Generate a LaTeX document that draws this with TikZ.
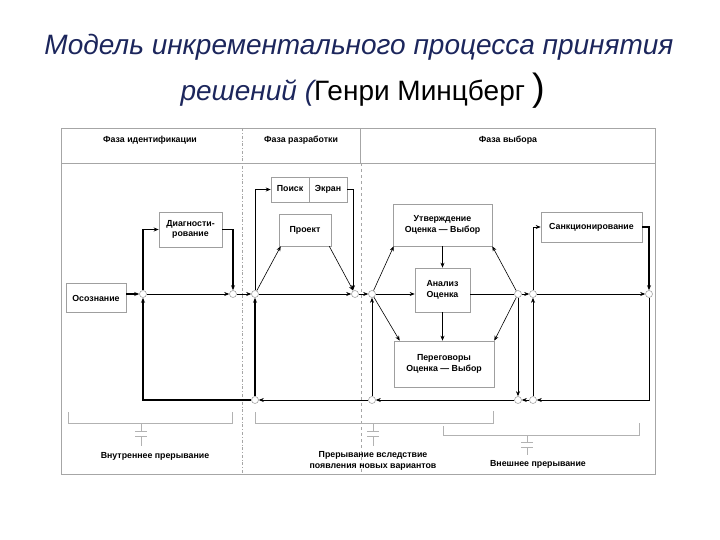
\documentclass[tikz,border=0pt]{standalone}
\usepackage{fontspec}
\setmainfont{Liberation Sans}
\usetikzlibrary{arrows.meta}
\definecolor{titleblue}{RGB}{28,38,92}

\begin{document}
\begin{tikzpicture}[x=1pt,y=-1pt,line width=.6pt,
  box/.style={draw=gray!75,fill=white,inner sep=1pt,align=center,font=\fontsize{8.8}{10.5}\selectfont\bfseries},
  lbl/.style={inner sep=1pt,align=center,font=\fontsize{8.8}{11.5}\selectfont\bfseries},
  junc/.style={circle,draw=gray!70,fill=white,inner sep=0pt,minimum size=7pt},
  flow/.style={-{Stealth[length=5pt,width=4pt]}},
  brk/.style={draw=gray!60,line width=.7pt}]
\useasboundingbox (0,0) rectangle (720,540);
% title
\node[anchor=base,text=titleblue,font=\fontsize{28}{32}\selectfont\itshape] (title1) at (359,55) {Модель инкрементального процесса принятия};
\node[anchor=base,font=\fontsize{28}{32}\selectfont] (title2) at (363,101) {\textcolor{titleblue}{\itshape решений (}Генри Минцберг {\fontsize{38}{38}\selectfont)}};
% frame and phases
\draw[gray!70] (61,128) rectangle (655,474);
\draw[gray!70] (61,163) -- (655,163);
\draw[gray!70,dash dot] (242,128) -- (242,474);
\draw[gray!70] (360,128) -- (360,163);
\draw[gray!70,dashed] (361,163) -- (361,474);
\node[lbl] (ph1) at (150,140) {Фаза идентификации};
\node[lbl] (ph2) at (301,140) {Фаза разработки};
\node[lbl] (ph3) at (508,140) {Фаза выбора};
% boxes
\node[box,minimum width=60pt,minimum height=29pt] (osoz) at (96,298) {Осознание};
\node[box,minimum width=63pt,minimum height=35pt] (diag) at (190.5,229.5) {Диагности-\\рование};
\node[box,minimum width=38pt,minimum height=25pt,text depth=2.5pt] (poisk) at (290,189.5) {Поиск};
\node[box,minimum width=38pt,minimum height=25pt,text depth=2.5pt] (ekran) at (328,189.5) {Экран};
\node[box,minimum width=52pt,minimum height=32pt] (proekt) at (305,230) {Проект};
\node[box,minimum width=99pt,minimum height=42pt] (utv) at (442.5,225) {Утверждение\\Оценка --- Выбор};
\node[box,minimum width=55pt,minimum height=44pt] (anal) at (442.5,290) {Анализ\\Оценка};
\node[box,minimum width=100pt,minimum height=46pt] (per) at (444,364) {Переговоры\\Оценка --- Выбор};
\node[box,minimum width=101pt,minimum height=30pt] (sank) at (591.5,227) {Санкционирование};
% junctions
\node[junc] (c1) at (143,294) {};
\node[junc] (c2) at (233,294) {};
\node[junc] (c3) at (255,294) {};
\node[junc] (c4) at (355,294) {};
\node[junc] (c5) at (372,294) {};
\node[junc] (c6) at (518,294) {};
\node[junc] (c7) at (533,294) {};
\node[junc] (c8) at (649,294) {};
\node[junc] (b3) at (255,400) {};
\node[junc] (b5) at (372,400) {};
\node[junc] (b6) at (518,400) {};
\node[junc] (b7) at (533,400) {};
% main line
\draw[flow,line width=1.4pt] (osoz.east |- c1) -- (c1);
\draw[flow] (c1) -- (c2);
\draw[flow] (c2) -- (c3);
\draw[flow] (c3) -- (c4);
\draw[flow] (c4) -- (c5);
\draw[flow] (c5) -- (c5 -| anal.west);
\draw (anal.east |- c6) -- (c6);
\draw[flow] (c6) -- (c7);
\draw[flow] (c7) -- (c8);
% identification
\draw[flow,line width=1.4pt] (c1) |- (diag.west);
\draw[flow,line width=1.4pt] (diag.east) -| (c2);
% development
\draw[flow] (c3) |- (poisk.west);
\draw[flow] (ekran.east) -| ([xshift=-2pt]c4.north);
\draw[flow] (c3) -- ([xshift=2pt]proekt.south west);
\draw[flow] ([xshift=-2pt]proekt.south east) -- (c4);
% selection
\draw[flow] (c5) -- ([xshift=1pt]utv.south west);
\draw[flow] (c5) -- ([xshift=6pt]per.north west);
\draw[flow] (c6) -- (utv.south east);
\draw[flow] (c6) -- (per.north east);
\draw[flow] (utv.south -| anal.north) -- (anal.north);
\draw[flow] (anal.south) -- (anal.south |- per.north);
\draw[flow] (c7) |- (sank.west);
\draw[flow,line width=1.2pt] (sank.east) -| (c8);
% return loops
\draw[flow] (c8) |- (b7);
\draw[flow] (b7) -- (b6);
\draw[flow] (b6) -- (b5);
\draw[flow] (b5) -- (b3);
\draw[flow,line width=1.4pt] (b3) -| (c1);
\draw[flow,line width=1.2pt] (b3) -- (c3);
\draw[flow] (b5) -- (c5);
\draw[flow] (c6) -- (b6);
\draw[flow] (b7) -- (c7);
% interruptions
\draw[brk] (68,412) -- (68,423) -- (232,423) -- (232,412);
\draw[brk] (141,423) -- (141,431) (135,431) -- (147,431) (135,436) -- (147,436) (141,436) -- (141,446);
\node[lbl] (int1) at (155,456) {Внутреннее прерывание};
\draw[brk] (255,412) -- (255,423) -- (493,423) -- (493,411);
\draw[brk] (373,423) -- (373,431) (367,431) -- (379,431) (367,436) -- (379,436) (373,436) -- (373,446);
\node[lbl] (int2) at (373,461) {Прерывание вследствие\\появления новых вариантов};
\draw[brk] (443,426) -- (443,435) -- (639,435) -- (639,423);
\draw[brk] (527,435) -- (527,442) (521,442) -- (533,442) (521,447) -- (533,447) (527,447) -- (527,455);
\node[lbl] (int3) at (538,464) {Внешнее прерывание};
\end{tikzpicture}
\end{document}
